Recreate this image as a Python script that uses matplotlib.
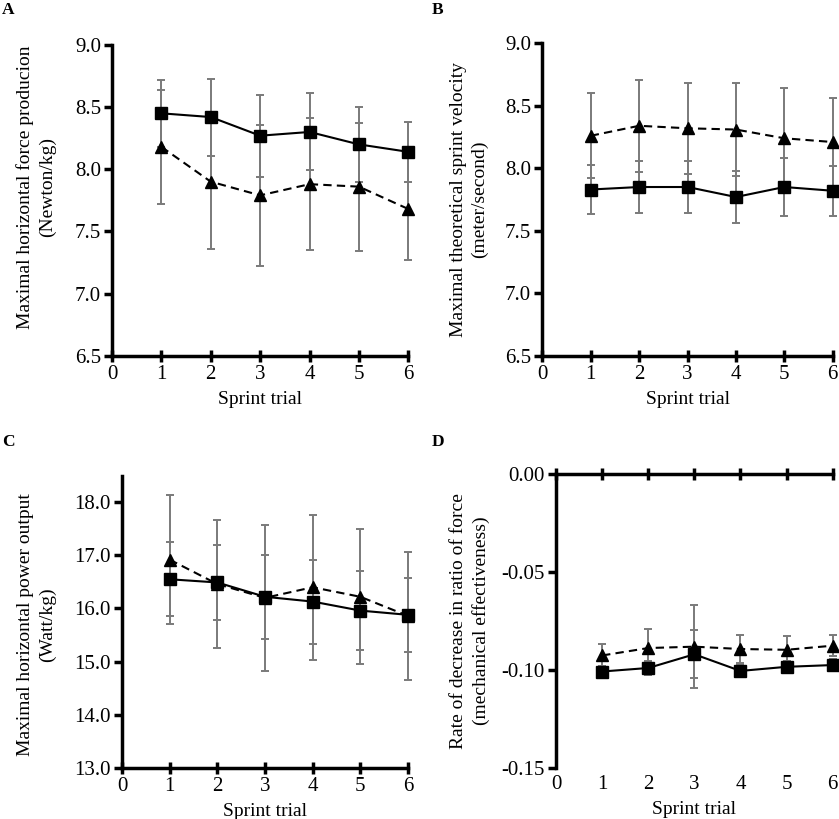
import numpy as np
import matplotlib as mpl
mpl.use('Agg')
import matplotlib.pyplot as plt

mpl.rcParams['font.family'] = 'Liberation Serif'
mpl.rcParams['font.size'] = 14
mpl.rcParams['axes.unicode_minus'] = False

trials = [1, 2, 3, 4, 5, 6]
xticks = [0, 1, 2, 3, 4, 5, 6]

# A: maximal horizontal force
force_sq = [8.45, 8.42, 8.27, 8.30, 8.20, 8.14]
force_sq_sd = [0.27, 0.31, 0.33, 0.31, 0.30, 0.24]
force_tri = [8.18, 7.90, 7.79, 7.88, 7.86, 7.68]
force_tri_sd = [0.46, 0.545, 0.57, 0.53, 0.515, 0.41]

# B: maximal theoretical velocity
vel_sq = [7.83, 7.85, 7.85, 7.77, 7.85, 7.82]
vel_sq_sd = [0.195, 0.21, 0.21, 0.21, 0.235, 0.20]
vel_tri = [8.26, 8.34, 8.32, 8.31, 8.24, 8.21]
vel_tri_sd = [0.34, 0.37, 0.365, 0.37, 0.40, 0.355]

# C: maximal power
pow_sq = [16.55, 16.49, 16.22, 16.13, 15.96, 15.88]
pow_sq_sd = [0.70, 0.70, 0.79, 0.79, 0.74, 0.70]
pow_tri = [16.92, 16.46, 16.20, 16.40, 16.22, 15.86]
pow_tri_sd = [1.22, 1.20, 1.37, 1.37, 1.27, 1.21]

# D: rate of decrease in ratio of force
drf_sq = [-0.1008, -0.0990, -0.0920, -0.1005, -0.0984, -0.0975]
drf_sq_sd = [0.003, 0.0035, 0.0122, 0.003, 0.003, 0.003]
drf_tri = [-0.0926, -0.0888, -0.0881, -0.0893, -0.0897, -0.0876]
drf_tri_sd = [0.006, 0.0099, 0.0212, 0.0072, 0.0072, 0.0055]

fig = plt.figure(figsize=(8.39, 8.19), dpi=100)

panels = [
    dict(rect=[0.1335, 0.5657, 0.3532, 0.3794], letter='A', lxy=(0.002, 0.997),
         sq=force_sq, sq_sd=force_sq_sd, tri=force_tri, tri_sd=force_tri_sd,
         ylim=(6.5, 9.0), yticks=np.arange(6.5, 9.01, 0.5), fmt='%.1f',
         ylabel='Maximal horizontal force producion\n(Newton/kg)', lc=(-0.19, 0.543)),
    dict(rect=[0.6464, 0.5657, 0.3461, 0.3814], letter='B', lxy=(0.514, 0.997),
         sq=vel_sq, sq_sd=vel_sq_sd, tri=vel_tri, tri_sd=vel_tri_sd,
         ylim=(6.5, 9.0), yticks=np.arange(6.5, 9.01, 0.5), fmt='%.1f',
         ylabel='Maximal theoretical sprint velocity\n(meter/second)', lc=(-0.185, 0.5)),
    dict(rect=[0.1454, 0.0626, 0.3409, 0.3565], letter='C', lxy=(0.002, 0.470),
         sq=pow_sq, sq_sd=pow_sq_sd, tri=pow_tri, tri_sd=pow_tri_sd,
         ylim=(13.0, 18.5), yticks=np.arange(13.0, 18.01, 1.0), fmt='%.1f',
         ylabel='Maximal horizontal power output\n(Watt/kg)', lc=(-0.232, 0.49)),
    dict(rect=[0.6627, 0.0626, 0.3298, 0.3582], letter='D', lxy=(0.514, 0.470),
         sq=drf_sq, sq_sd=drf_sq_sd, tri=drf_tri, tri_sd=drf_tri_sd,
         ylim=(-0.15, 0.0), yticks=[-0.15, -0.10, -0.05, 0.0], fmt='%.2f',
         ylabel='Rate of decrease in ratio of force\n(mechanical effectiveness)', lc=(-0.24, 0.5)),
]

for p in panels:
    ax = fig.add_axes(p['rect'])
    ecol = '#7a7a7a'
    ax.errorbar(trials, p['sq'], yerr=p['sq_sd'], fmt='none', ecolor=ecol,
                elinewidth=1.4, capsize=2.6, capthick=1.4, zorder=2, clip_on=False)
    ax.errorbar(trials, p['tri'], yerr=p['tri_sd'], fmt='none', ecolor=ecol,
                elinewidth=1.4, capsize=2.6, capthick=1.4, zorder=2, clip_on=False)
    ax.plot(trials, p['tri'], color='black', lw=1.5, ls=(0, (4, 2.5)),
            marker='^', ms=8.5, zorder=3, clip_on=False)
    ax.plot(trials, p['sq'], color='black', lw=1.5, ls='-',
            marker='s', ms=8.2, zorder=4, clip_on=False)

    ax.set_xlim(0, 6)
    ax.set_ylim(*p['ylim'])
    ax.set_xticks(xticks)
    ax.set_yticks(p['yticks'])
    ax.yaxis.set_major_formatter(mpl.ticker.FormatStrFormatter(p['fmt']))
    ax.spines['right'].set_visible(False)
    for s in ['left', 'top', 'bottom']:
        ax.spines[s].set_linewidth(2.5)
    ax.tick_params(axis='y', direction='out', length=6, width=2.5, pad=2, labelsize=15)
    if p['letter'] == 'D':
        ax.spines['bottom'].set_visible(False)
        ax.tick_params(axis='x', direction='inout', length=9, width=2.5, labelsize=15,
                       top=True, bottom=False, labeltop=False, labelbottom=True, pad=1)
        ax.set_xlabel('Sprint trial', labelpad=5)
    else:
        ax.spines['top'].set_visible(False)
        ax.tick_params(axis='x', direction='inout', length=9, width=2.5, pad=2, labelsize=15)
        ax.set_xlabel('Sprint trial', labelpad=5)
    ax.set_ylabel(p['ylabel'], linespacing=1.35)
    ax.yaxis.set_label_coords(*p['lc'])
    fig.text(p['lxy'][0], p['lxy'][1], p['letter'], fontsize=12.5, fontweight='bold',
             ha='left', va='top')

plt.savefig('out.png', dpi=100)
